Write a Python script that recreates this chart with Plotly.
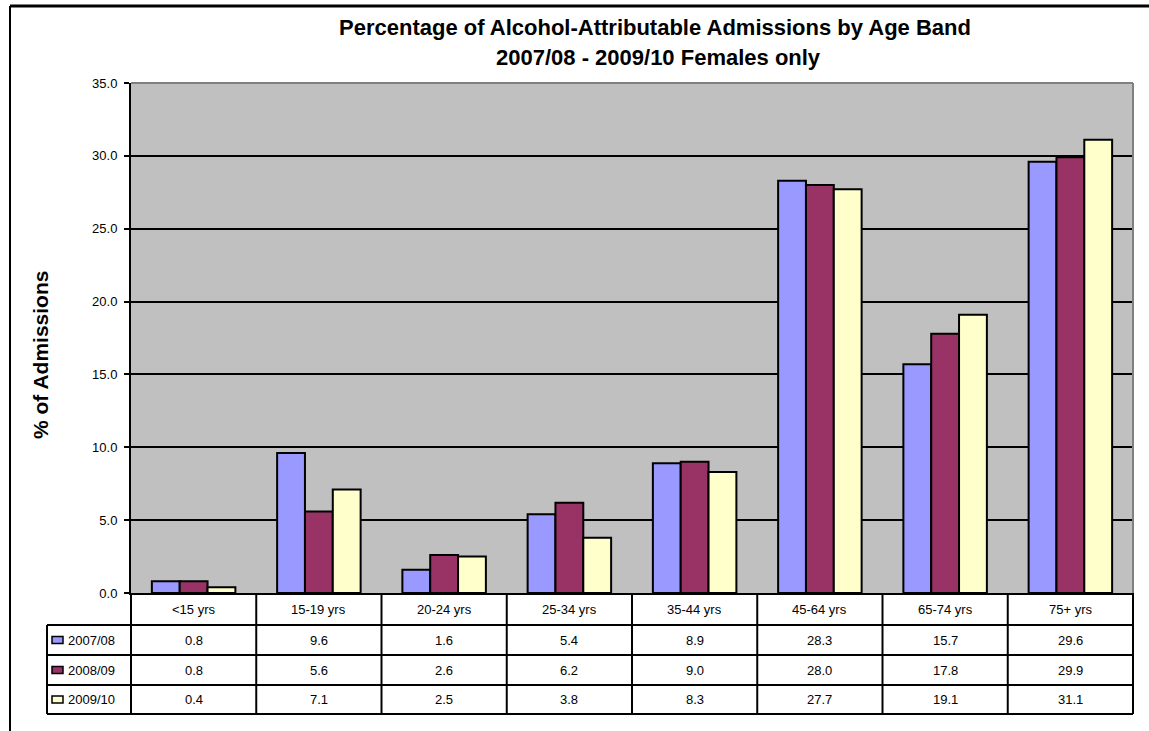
import plotly.graph_objects as go

# Age bands and admission percentages per financial year
age_bands = ["<15 yrs", "15-19 yrs", "20-24 yrs", "25-34 yrs",
             "35-44 yrs", "45-64 yrs", "65-74 yrs", "75+ yrs"]
years = ["2007/08", "2008/09", "2009/10"]
pct_2007_08 = [0.8, 9.6, 1.6, 5.4, 8.9, 28.3, 15.7, 29.6]
pct_2008_09 = [0.8, 5.6, 2.6, 6.2, 9.0, 28.0, 17.8, 29.9]
pct_2009_10 = [0.4, 7.1, 2.5, 3.8, 8.3, 27.7, 19.1, 31.1]
series_values = [pct_2007_08, pct_2008_09, pct_2009_10]
series_colors = ["#9999FF", "#993366", "#FFFFCC"]
y_ticks = [0, 5, 10, 15, 20, 25, 30, 35]

FONT = "Liberation Sans, Arial, sans-serif"
W, H = 1149, 731
L, R, T, B = 131, 16, 83, 138
PW, PH = W - L - R, H - T - B


def px_x(px):
    return (px - L) / PW


def px_y(py):
    return (H - B - py) / PH


fig = go.Figure()
for name, vals, col in zip(years, series_values, series_colors):
    fig.add_trace(go.Bar(
        name=name, x=age_bands, y=vals,
        marker=dict(color=col, line=dict(color="black", width=2)),
        showlegend=False,
    ))

shapes = []
line = dict(color="black", width=2)

# outer chart frame (top and left)
shapes.append(dict(type="line", xref="paper", yref="paper",
                   x0=px_x(10), x1=px_x(W + 5), y0=px_y(6), y1=px_y(6),
                   line=dict(color="black", width=3)))
shapes.append(dict(type="line", xref="paper", yref="paper",
                   x0=px_x(10), x1=px_x(10), y0=px_y(6), y1=px_y(H + 5), line=line))

# grey plot-area border on top and right
grey = dict(color="#808080", width=2)
shapes.append(dict(type="line", xref="paper", yref="paper",
                   x0=0, x1=1, y0=1, y1=1, line=grey))
shapes.append(dict(type="line", xref="paper", yref="paper",
                   x0=1, x1=1, y0=0, y1=1, line=grey))

# data table grid
row_lines = [625, 655, 685, 714]
legend_left = 47
for ry in row_lines:
    shapes.append(dict(type="line", xref="paper", yref="paper",
                       x0=px_x(legend_left), x1=1, y0=px_y(ry), y1=px_y(ry), line=line))
n = len(age_bands)
for k in range(n + 1):
    shapes.append(dict(type="line", xref="paper", yref="paper",
                       x0=k / n, x1=k / n, y0=0, y1=px_y(row_lines[-1]), line=line))
shapes.append(dict(type="line", xref="paper", yref="paper",
                   x0=px_x(legend_left), x1=px_x(legend_left),
                   y0=px_y(row_lines[0]), y1=px_y(row_lines[-1]), line=line))

annotations = []
txt = dict(family=FONT, size=13, color="black")

# column headers
for cat in age_bands:
    annotations.append(dict(x=cat, xref="x", y=px_y(609), yref="paper",
                            text=cat, showarrow=False, font=txt,
                            xanchor="center", yanchor="middle"))

# table rows: legend key + values
for i, (name, vals, col) in enumerate(zip(years, series_values, series_colors)):
    cy = (row_lines[i] + row_lines[i + 1]) / 2
    shapes.append(dict(type="rect", xref="paper", yref="paper",
                       x0=px_x(52), x1=px_x(63), y0=px_y(cy - 3.5), y1=px_y(cy + 3.5),
                       fillcolor=col, line=dict(color="black", width=1.5)))
    annotations.append(dict(x=px_x(66), xref="paper", y=px_y(cy), yref="paper",
                            text=name, showarrow=False, font=txt,
                            xanchor="left", yanchor="middle"))
    for cat, v in zip(age_bands, vals):
        annotations.append(dict(x=cat, xref="x", y=px_y(cy), yref="paper",
                                text=f"{v:.1f}", showarrow=False, font=txt,
                                xanchor="center", yanchor="middle"))

# title lines
title_font = dict(family=FONT, size=22, color="black")
annotations.append(dict(x=px_x(655), xref="paper", y=px_y(28), yref="paper",
                        text="<b>Percentage of Alcohol-Attributable Admissions by Age Band</b>",
                        showarrow=False, font=title_font, xanchor="center", yanchor="middle"))
annotations.append(dict(x=px_x(658), xref="paper", y=px_y(58), yref="paper",
                        text="<b>2007/08 - 2009/10 Females only</b>",
                        showarrow=False, font=title_font, xanchor="center", yanchor="middle"))

# y axis title
annotations.append(dict(x=px_x(40), xref="paper", y=px_y(355), yref="paper",
                        text="<b>% of Admissions</b>", textangle=-90,
                        showarrow=False, font=dict(family=FONT, size=21, color="black"),
                        xanchor="center", yanchor="middle"))

fig.update_layout(
    width=W, height=H,
    margin=dict(l=L, r=R, t=T, b=B),
    paper_bgcolor="white",
    plot_bgcolor="#C0C0C0",
    barmode="group", bargap=1 / 3, bargroupgap=0,
    font=dict(family=FONT, size=13, color="black"),
    shapes=shapes, annotations=annotations,
    xaxis=dict(showline=True, linecolor="black", linewidth=2,
               showticklabels=False, ticks="", showgrid=False,
               range=[-0.5, n - 0.5], fixedrange=True),
    yaxis=dict(range=[0, 35], tickvals=y_ticks, tickformat=".1f",
               showline=True, linecolor="black", linewidth=2,
               ticks="outside", ticklen=5, tickwidth=2, tickcolor="black",
               showgrid=True, gridcolor="black", gridwidth=2,
               zeroline=False, ticklabelstandoff=4,
               tickfont=dict(family=FONT, size=13, color="black")),
)

fig.write_html("out.html")
